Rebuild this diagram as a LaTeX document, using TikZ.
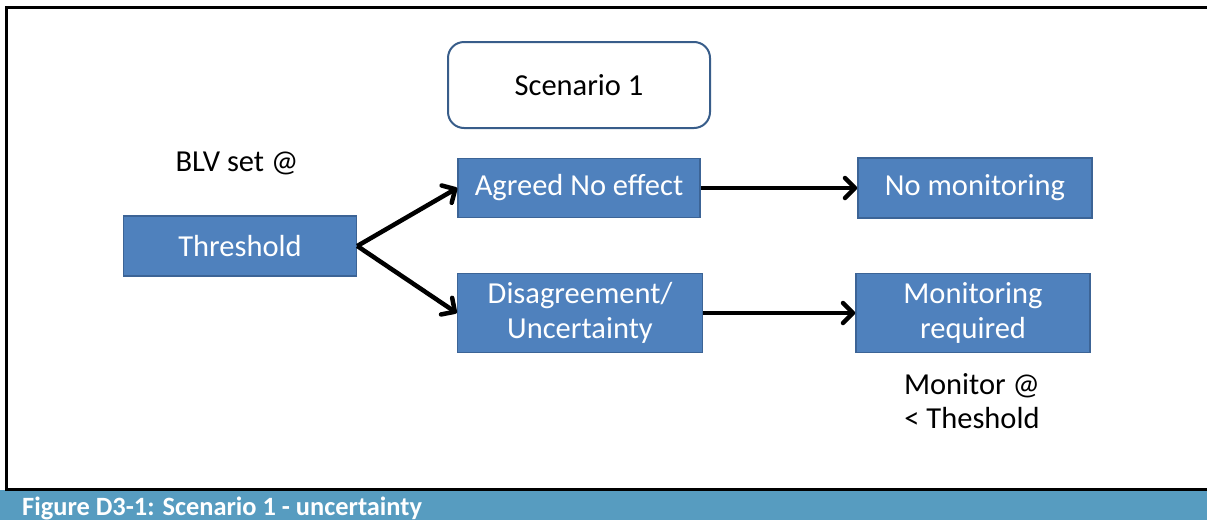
\documentclass[tikz,border=0pt]{standalone}
\usepackage{fontspec}
\setmainfont{Carlito}
\usetikzlibrary{positioning,arrows.meta}
\definecolor{boxblue}{RGB}{79,129,189}
\definecolor{boxedge}{RGB}{60,100,150}
\definecolor{scenedge}{RGB}{56,93,138}
\definecolor{capblue}{RGB}{87,156,192}
\begin{document}
\begin{tikzpicture}[x=1pt,y=-1pt,
  box/.style={draw=boxedge,line width=1.5pt,fill=boxblue,text=white,align=center,inner sep=0pt,font=\fontsize{30.5}{35}\selectfont},
  lbl/.style={align=center,inner sep=0pt,font=\fontsize{30.5}{34}\selectfont},
  flow/.style={line width=4.5pt,-{Straight Barb[length=10pt,width=20pt,round]}}]
\useasboundingbox (0,0) rectangle (1207,520);
% frame and caption band
\fill[capblue] (0,490) rectangle (1207,520);
\draw[line width=3pt] (1207,7)--(6,7)--(6,489)--(1207,489);
\node[anchor=base west,inner sep=0pt,text=white,font=\fontsize{26.4}{30}\selectfont\bfseries] (cap) at (22,515) {Figure D3-1: Scenario 1 - uncertainty};
% boxes
\node[draw=scenedge,line width=2pt,rounded corners=16pt,minimum width=262pt,minimum height=86pt,lbl] (scen) at (579,85) {Scenario 1};
\node[box,minimum width=233pt,minimum height=60pt] (thr) at (240,246) {Threshold};
\node[box,minimum width=242pt,minimum height=59pt] (agr) at (579,188) {Agreed No effect};
\node[box,minimum width=245pt,minimum height=79pt] (dis) at (580,313) {Disagreement/\\Uncertainty};
\node[box,minimum width=234pt,minimum height=60pt] (nomon) at (975,188) {No monitoring};
\node[box,minimum width=234pt,minimum height=79pt] (monreq) at (973,313) {Monitoring\\required};
% loose labels
\node[lbl] (blv) at (237,163) {BLV set @};
\node[lbl] (mon) at (972,401) {Monitor @\\< Theshold};
% arrows
\draw[flow] (thr.east)--(agr.west);
\draw[flow] (thr.east)--(dis.west);
\draw[flow] (agr.east)--(nomon.west);
\draw[flow] (dis.east)--(monreq.west);
\end{tikzpicture}
\end{document}
